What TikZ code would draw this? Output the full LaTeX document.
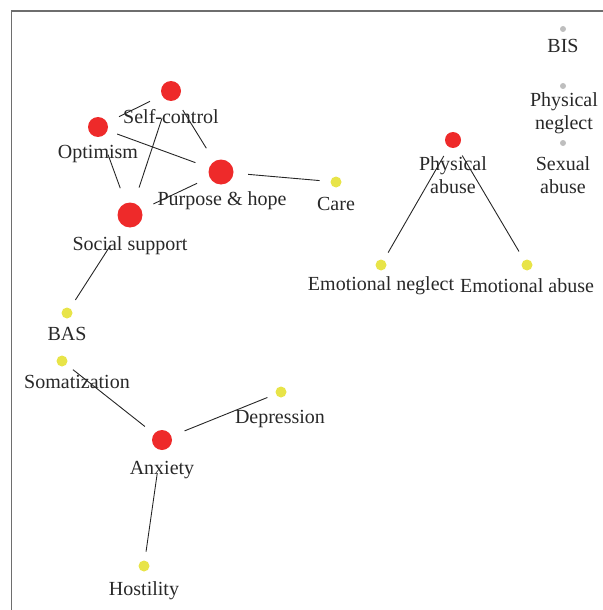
\documentclass[tikz,border=0pt]{standalone}
\usepackage{fontspec}
\setmainfont{Liberation Serif}
\usetikzlibrary{positioning}
\definecolor{nodered}{RGB}{238,42,42}
\definecolor{nodeyellow}{RGB}{232,228,72}
\definecolor{nodegrey}{RGB}{190,190,190}
\definecolor{framegrey}{RGB}{110,110,110}
\definecolor{labeltext}{RGB}{40,40,40}

\begin{document}
\begin{tikzpicture}[x=0.5pt, y=-0.5pt,
        bigdot/.style={circle, fill=nodered, inner sep=0pt, minimum size=12.5pt},
        reddot/.style={circle, fill=nodered, inner sep=0pt, minimum size=10pt},
        ydot/.style={circle, fill=nodeyellow, inner sep=0pt, minimum size=5.5pt},
        gdot/.style={circle, fill=nodegrey, inner sep=0pt, minimum size=3pt},
        lbl/.style={anchor=base, align=center, inner sep=0pt, text=labeltext,
                    font=\fontsize{10}{11.5}\selectfont},
        link/.style 2 args={draw=black!85, line width=0.45pt,
                    shorten <=#1, shorten >=#2}
      ]
        \useasboundingbox (0,0) rectangle (603,610);
        \draw[framegrey, line width=0.8pt] (11.5,640) -- (11.5,11) -- (640,11);

        % dots
        \node[reddot] (selfc) at (171,91) {};
        \node[reddot] (optim) at (98,127) {};
        \node[bigdot] (purp)  at (221,172) {};
        \node[bigdot] (socsup) at (130,215) {};
        \node[ydot]   (care)  at (336,182) {};
        \node[reddot, minimum size=8pt] (physab) at (453,140) {};
        \node[gdot]   (bis)   at (563,29) {};
        \node[gdot]   (physne) at (563,86) {};
        \node[gdot]   (sexab) at (563,143) {};
        \node[ydot]   (emone) at (381,265) {};
        \node[ydot]   (emoab) at (527,265) {};
        \node[ydot]   (bas)   at (67,313) {};
        \node[ydot]   (somat) at (62,361) {};
        \node[ydot]   (depr)  at (281,392) {};
        \node[reddot] (anx)   at (162,440) {};
        \node[ydot]   (host)  at (144,566) {};

        % labels (base = last line)
        \node[lbl] (selfc-l)  at (171,124) {Self-control};
        \node[lbl] (optim-l)  at (98,158)  {Optimism};
        \node[lbl] (purp-l)   at (222,205) {Purpose \& hope};
        \node[lbl] (socsup-l) at (130,250) {Social support};
        \node[lbl] (care-l)   at (336,210) {Care};
        \node[lbl] (physab-l) at (453,193) {Physical\\abuse};
        \node[lbl] (bis-l)    at (563,53)  {BIS};
        \node[lbl] (physne-l) at (564,130) {Physical\\neglect};
        \node[lbl] (sexab-l)  at (563,193) {Sexual\\abuse};
        \node[lbl] (emone-l)  at (381,290) {Emotional neglect};
        \node[lbl] (emoab-l)  at (527,292) {Emotional abuse};
        \node[lbl] (bas-l)    at (67,340)  {BAS};
        \node[lbl] (somat-l)  at (77,388)  {Somatization};
        \node[lbl] (depr-l)   at (280,423) {Depression};
        \node[lbl] (anx-l)    at (162,474) {Anxiety};
        \node[lbl] (host-l)   at (144,595) {Hostility};

        % edges
        \draw[link={6.5pt}{6.5pt}]   (optim) -- (selfc);
        \draw[link={6pt}{7.5pt}]     (selfc) -- (purp);
        \draw[link={5pt}{7.2pt}]     (optim) -- (purp);
        \draw[link={9.5pt}{7.8pt}]   (optim) -- (socsup);
        \draw[link={9.2pt}{8pt}]     (selfc) -- (socsup);
        \draw[link={6.8pt}{6.5pt}]   (purp) -- (socsup);
        \draw[link={7.2pt}{5.3pt}]   (purp) -- (care);
        \draw[link={12pt}{4.8pt}]    (socsup) -- (bas);
        \draw[link={5pt}{4.2pt}]     (physab) -- (emone);
        \draw[link={4.8pt}{4.9pt}]   (physab) -- (emoab);
        \draw[link={4pt}{5.7pt}]     (somat) -- (anx);
        \draw[link={7pt}{4.4pt}]     (anx) -- (depr);
        \draw[link={11.5pt}{4.3pt}]  (anx) -- (host);
      \end{tikzpicture}
\end{document}
